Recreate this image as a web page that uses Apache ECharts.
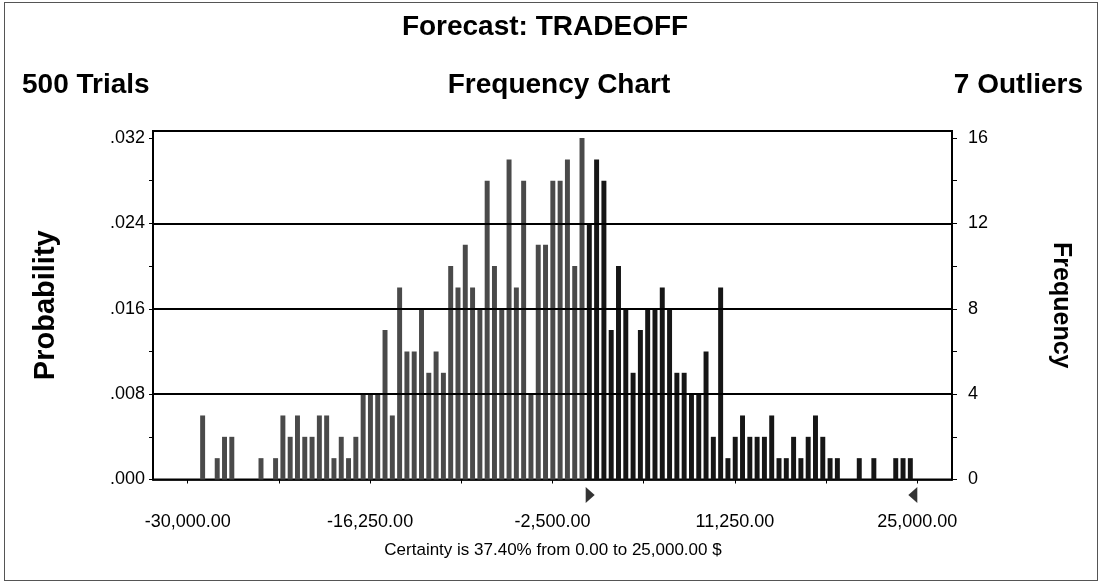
<!DOCTYPE html>
<html><head><meta charset="utf-8">
<script src="https://cdn.jsdelivr.net/npm/echarts@6/dist/echarts.min.js"></script>
<style>
html,body{margin:0;padding:0;background:#fff;}
#c{position:absolute;left:0;top:0;width:1102px;height:587px;}
#frame{position:absolute;left:4px;top:2px;width:1092px;height:577px;border:1px solid #555;pointer-events:none;}
</style>
</head><body><div id="c"></div><div id="frame"></div>
<script>
// ---- data ----
const counts = [
  3,0,1,2,2,0,0,0,1,0,1,3,2,3,2,2,3,3,1,2,1,2,
  4,4,4,7,3,9,6,6,8,5,6,5,10,9,11,9,8,14,10,8,15,9,14,
  4,11,11,14,14,15,10,16,12,15,14,7,10,8,5,7,8,8,9,8,5,5,4,4,6,2,9,1,2,3,2,2,
  2,3,1,1,2,1,2,3,2,1,1,0,0,1,0,1,0,0,1,1,1
];
const binStart0 = -29150;
const binWidth = 550;
const trials = 500;
const outliers = 7;
const certaintyRange = [0, 25000];
const certaintyPct = 37.40;
const xTickValues = [-30000,-23125,-16250,-9375,-2500,4375,11250,18125,25000];
const xLabelValues = [-30000,-16250,-2500,11250,25000];
const freqLabelValues = [0,4,8,12,16];
const freqTickValues = [0,2,4,6,8,10,12,14,16];
const probLabelValues = [0,0.008,0.016,0.024,0.032];
const probTickValues = [0,0.004,0.008,0.012,0.016,0.020,0.024,0.028,0.032];
const gridLineValues = [4,8,12];

const categories = counts.map((_, i) => String(binStart0 + i * binWidth));

// ---- layout ----
const FONT = 'Liberation Sans';
const plotLeft = 153, plotRight = 952, plotTop = 131, plotBottom = 479.5;
const plotW = plotRight - plotLeft, plotH = plotBottom - plotTop;
const xMin = -32616, xMax = 27616;
const freqMax = 16.33;
const probMax = freqMax / trials;
const pxPerVal = plotW / (xMax - xMin);
const gbLeft = plotLeft + (binStart0 - xMin) * pxPerVal;
const gbWidth = counts.length * binWidth * pxPerVal;

function fmtMoney(v){
  const neg = v < 0; v = Math.abs(v);
  const s = v.toFixed(2); const [ip, dp] = s.split('.');
  const withC = ip.replace(/\B(?=(\d{3})+(?!\d))/g, ',');
  return (neg ? '-' : '') + withC + '.' + dp;
}

const chart = echarts.init(document.getElementById('c'), null, {renderer:'canvas'});
const option = {
  animation: false,
  backgroundColor: '#fff',
  textStyle: {fontFamily: FONT, color: '#000'},
  title: [
    {text: 'Forecast: TRADEOFF', left: 545, top: 13, textAlign: 'center', padding: 0,
     textStyle: {fontSize: 28, fontWeight: 'bold', fontFamily: FONT, color: '#000'}},
    {text: trials + ' Trials', left: 22, top: 71, padding: 0,
     textStyle: {fontSize: 28, fontWeight: 'bold', fontFamily: FONT, color: '#000'}},
    {text: 'Frequency Chart', left: 559, top: 71, textAlign: 'center', padding: 0,
     textStyle: {fontSize: 28, fontWeight: 'bold', fontFamily: FONT, color: '#000'}},
    {text: outliers + ' Outliers', left: 1083, top: 71, textAlign: 'right', padding: 0,
     textStyle: {fontSize: 28, fontWeight: 'bold', fontFamily: FONT, color: '#000'}},
    {text: 'Certainty is ' + certaintyPct.toFixed(2) + '% from ' + fmtMoney(certaintyRange[0]) + ' to ' + fmtMoney(certaintyRange[1]) + ' $',
     left: 553, top: 542, textAlign: 'center', padding: 0,
     textStyle: {fontSize: 17, fontWeight: 'normal', fontFamily: FONT, color: '#000'}}
  ],
  grid: [
    {left: plotLeft, top: plotTop, width: plotW, height: plotH, show: true, borderColor: '#000', borderWidth: 2, backgroundColor: 'transparent'},
    {left: gbLeft, top: plotTop, width: gbWidth, height: plotH}
  ],
  xAxis: [
    {gridIndex: 0, type: 'value', min: xMin, max: xMax,
     axisLine: {show: true, onZero: false, lineStyle: {color: '#000', width: 1.5}},
     axisTick: {show: true, customValues: xTickValues, length: 4, lineStyle: {color: '#000', width: 1}},
     axisLabel: {customValues: xLabelValues, formatter: v => fmtMoney(v), margin: 34, fontSize: 18, color: '#000', fontFamily: FONT},
     splitLine: {show: false}},
    {gridIndex: 1, type: 'category', data: categories, show: false, boundaryGap: true, axisLine: {onZero: false}}
  ],
  yAxis: [
    {gridIndex: 0, type: 'value', position: 'left', min: 0, max: probMax,
     axisLine: {show: true, onZero: false, lineStyle: {color: '#000', width: 2}},
     axisTick: {show: true, customValues: probTickValues, length: 4, lineStyle: {color: '#000'}},
     axisLabel: {customValues: probLabelValues, formatter: v => v.toFixed(3).replace(/^0/, ''), margin: 8, fontSize: 18, color: '#000', fontFamily: FONT},
     splitLine: {show: false},
     name: 'Probability', nameLocation: 'middle', nameGap: 93,
     nameTextStyle: {fontSize: 29, fontWeight: 'bold', color: '#000', fontFamily: FONT}},
    {gridIndex: 0, type: 'value', position: 'right', min: 0, max: freqMax,
     axisLine: {show: true, onZero: false, lineStyle: {color: '#000', width: 2}},
     axisTick: {show: true, customValues: freqTickValues, length: 5, lineStyle: {color: '#000'}},
     axisLabel: {customValues: freqLabelValues, margin: 16, fontSize: 18, color: '#000', fontFamily: FONT},
     splitLine: {show: false},
     name: 'Frequency', nameLocation: 'middle', nameRotate: -90, nameGap: 96,
     nameTextStyle: {fontSize: 25, fontWeight: 'bold', color: '#000', fontFamily: FONT}},
    {gridIndex: 1, type: 'value', min: 0, max: freqMax, show: false, axisLine: {onZero: false}}
  ],
  series: [
    {type: 'bar', xAxisIndex: 1, yAxisIndex: 2, data: counts, barCategoryGap: '32%', z: 2,
     itemStyle: {color: p => {
       const s = binStart0 + p.dataIndex * binWidth;
       return (s >= certaintyRange[0] && s < certaintyRange[1]) ? '#161616' : '#4a4a4a';
     }}},
    {type: 'line', xAxisIndex: 0, yAxisIndex: 1, data: [], z: 10, silent: true,
     markLine: {silent: true, symbol: ['none','none'], label: {show: false},
       lineStyle: {color: '#000', width: 2, type: 'solid'},
       data: gridLineValues.map(v => ({yAxis: v}))}},
    {type: 'scatter', xAxisIndex: 0, yAxisIndex: 1, clip: false, silent: true, z: 10,
     itemStyle: {color: '#000'},
     data: [
       {value: [certaintyRange[0], 0], symbol: 'path://M0,0 L10,10 L0,20 Z', symbolSize: [9, 16], symbolOffset: [4.5, 15.5]},
       {value: [certaintyRange[1], 0], symbol: 'path://M10,0 L0,10 L10,20 Z', symbolSize: [9, 16], symbolOffset: [-4.5, 15.5]}
     ]}
  ]
};
chart.setOption(option);
</script>
</body></html>
